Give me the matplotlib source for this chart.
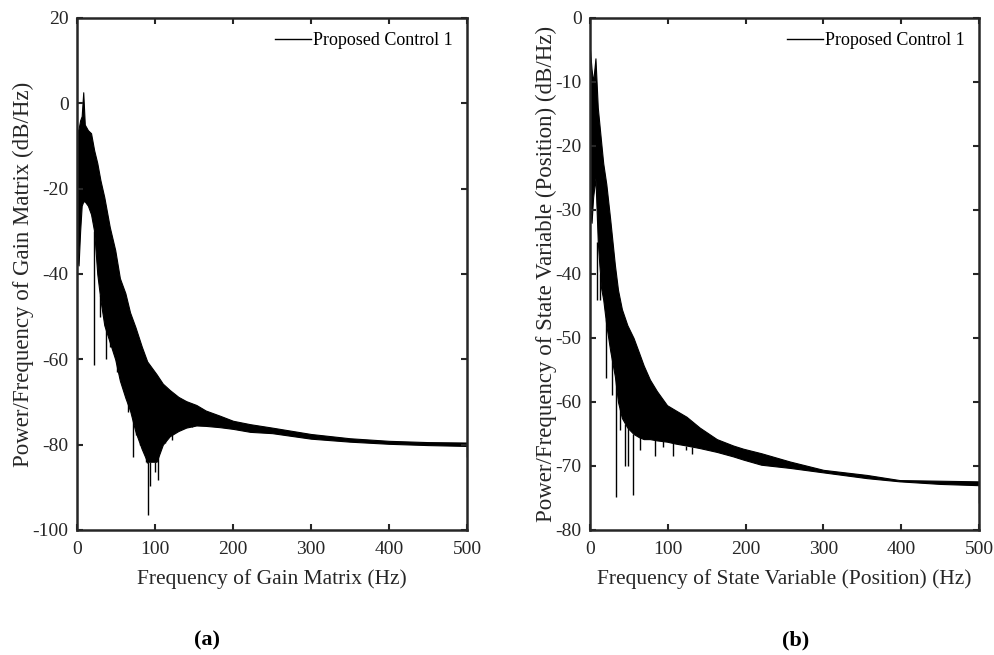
import matplotlib
matplotlib.use("Agg")
import matplotlib.pyplot as plt
from matplotlib.lines import Line2D

plt.rcParams['font.family'] = ['Liberation Serif', 'DejaVu Serif']
plt.rcParams['axes.unicode_minus'] = False

# ---- Panel (a): Gain matrix PSD envelope ----
freq_a = [0, 2, 4, 6, 8, 10, 14, 18, 22, 26, 30, 35, 42, 49, 55, 62, 68, 75, 83, 90,
          102, 110, 119, 130, 140, 153, 165, 183, 200, 222, 250, 300, 350, 400, 450, 500]
upper_a = [-7, -6, -4, -3, 2.6, -5, -6.3, -7, -11, -14, -18, -22, -29, -34.4, -41, -44.5, -49,
           -52.5, -57, -60.5, -63.5, -65.7, -67.2, -68.8, -69.8, -70.7, -72, -73.2, -74.4, -75.2,
           -76, -77.5, -78.5, -79.1, -79.4, -79.5]
lower_a = [-36, -38, -30, -24, -23, -23, -24, -26, -30, -40, -46, -52, -56, -60, -65, -69, -72,
           -77, -81, -84, -84, -80, -78, -76.8, -76, -75.5, -75.6, -75.9, -76.3, -77, -77.3,
           -78.6, -79.3, -79.8, -80.1, -80.3]
spike_f_a = [21.8, 29.5, 36.8, 42.3, 45.7, 50.9, 59.4, 61.5, 65.8, 68, 71.4, 75.6, 78.6, 80.8,
             88.5, 89.3, 91.4, 93.6, 100, 104.3, 112.8, 119, 121.4, 127.8, 134.2, 147, 155.5, 500]
spike_lo_a = [-61.3, -50, -59.9, -57, -57, -62.9, -66.4, -68, -72.3, -71.9, -82.8, -77.7, -78,
              -79.6, -84, -84.4, -96.5, -89.8, -86.3, -88.3, -79.7, -78, -78.9, -76.6, -75.8,
              -75.8, -75, -83]
spike_hi_a = [-30, -45, -50, -54, -55, -58, -64, -66, -70, -71, -74, -77, -77, -80,
              -83, -83, -84, -84, -84, -82, -79, -77, -77, -76, -75, -75, -74, -80]

# ---- Panel (b): State variable (position) PSD envelope ----
freq_b = [0, 2, 4, 7, 10, 14, 17, 21, 26, 32, 36, 41, 48, 56, 63, 69, 77, 86, 99, 110, 124,
          141, 163, 184, 197, 220, 257, 300, 356, 398, 450, 500]
upper_b = [-5, -8, -10, -6.3, -14, -19, -22.7, -26, -31.5, -38.6, -42.5, -45.5, -48, -50,
           -52.3, -54.3, -56.5, -58.3, -60.5, -61.3, -62.3, -64, -65.8, -66.8, -67.3, -68,
           -69.3, -70.6, -71.4, -72.2, -72.3, -72.4]
lower_b = [-30, -32, -28, -25, -35, -42, -44, -48, -52, -56, -60, -62.5, -64, -65, -65.5,
           -65.8, -65.8, -66, -66.2, -66.5, -66.8, -67.2, -67.8, -68.5, -69, -69.8, -70.3,
           -71, -71.9, -72.4, -72.8, -73]
spike_f_b = [9, 13, 20.6, 27.9, 33.4, 38.6, 45, 49.3, 55.7, 64.3, 83.5, 94, 107, 124, 130.7,
             500]
spike_lo_b = [-44, -44, -56.3, -58.9, -74.8, -64.4, -70, -70, -74.5, -67.5, -68.5, -67, -68.5,
              -67.5, -68.1, -75.8]
spike_hi_b = [-35, -40, -47, -51, -56, -61, -63.5, -64, -65, -65.5, -66, -66.1, -66.4, -66.8,
              -67, -73]

xticks = [0, 100, 200, 300, 400, 500]
yticks_a = [-100, -80, -60, -40, -20, 0, 20]
yticks_b = [-80, -70, -60, -50, -40, -30, -20, -10, 0]

W, H = 994, 655
fig = plt.figure(figsize=(W / 100, H / 100), dpi=100)

spine_col = '#262626'


def make_axes(rect, freq, up, lo, sf, slo, shi, yticks, xlabel, ylabel):
    ax = fig.add_axes(rect)
    ax.fill_between(freq, lo, up, color='black', linewidth=0.8, edgecolor='black')
    ax.vlines(sf, slo, shi, color='black', linewidth=1.0)
    ax.set_xlim(0, 500)
    ax.set_ylim(yticks[0], yticks[-1])
    ax.set_xticks(xticks)
    ax.set_yticks(yticks)
    ax.set_xticklabels([str(t) for t in xticks])
    ax.set_yticklabels([str(t) for t in yticks])
    ax.tick_params(direction='in', length=4, width=1.5, top=True, right=True,
                   labelsize=14, colors=spine_col)
    ax.tick_params(axis='x', pad=8)
    ax.tick_params(axis='y', pad=6)
    for s in ax.spines.values():
        s.set_linewidth(1.8)
        s.set_color(spine_col)
    ax.set_xlabel(xlabel, fontsize=15.5, color=spine_col, labelpad=8)
    ax.set_ylabel(ylabel, fontsize=16.5, color=spine_col, labelpad=-1)
    h = Line2D([], [], color='black', linewidth=1.0)
    ax.legend([h], ['Proposed Control 1'], loc='upper right', frameon=False,
              fontsize=13, handlelength=2.0, handletextpad=0.1,
              borderaxespad=0.4)
    return ax


ax1 = make_axes([77 / W, 1 - 530 / H, 390 / W, 512 / H], freq_a, upper_a, lower_a,
                spike_f_a, spike_lo_a, spike_hi_a, yticks_a,
                'Frequency of Gain Matrix (Hz)', 'Power/Frequency of Gain Matrix (dB/Hz)')
ax2 = make_axes([590 / W, 1 - 530 / H, 389 / W, 512 / H], freq_b, upper_b, lower_b,
                spike_f_b, spike_lo_b, spike_hi_b, yticks_b,
                'Frequency of State Variable (Position) (Hz)',
                'Power/Frequency of State Variable (Position) (dB/Hz)')

fig.text(207 / W, 1 - 640 / H, '(a)', ha='center', va='center', fontsize=16,
         fontweight='bold', color='black')
fig.text(796 / W, 1 - 640 / H, '(b)', ha='center', va='center', fontsize=16,
         fontweight='bold', color='black')

fig.savefig('out.png', dpi=100)
